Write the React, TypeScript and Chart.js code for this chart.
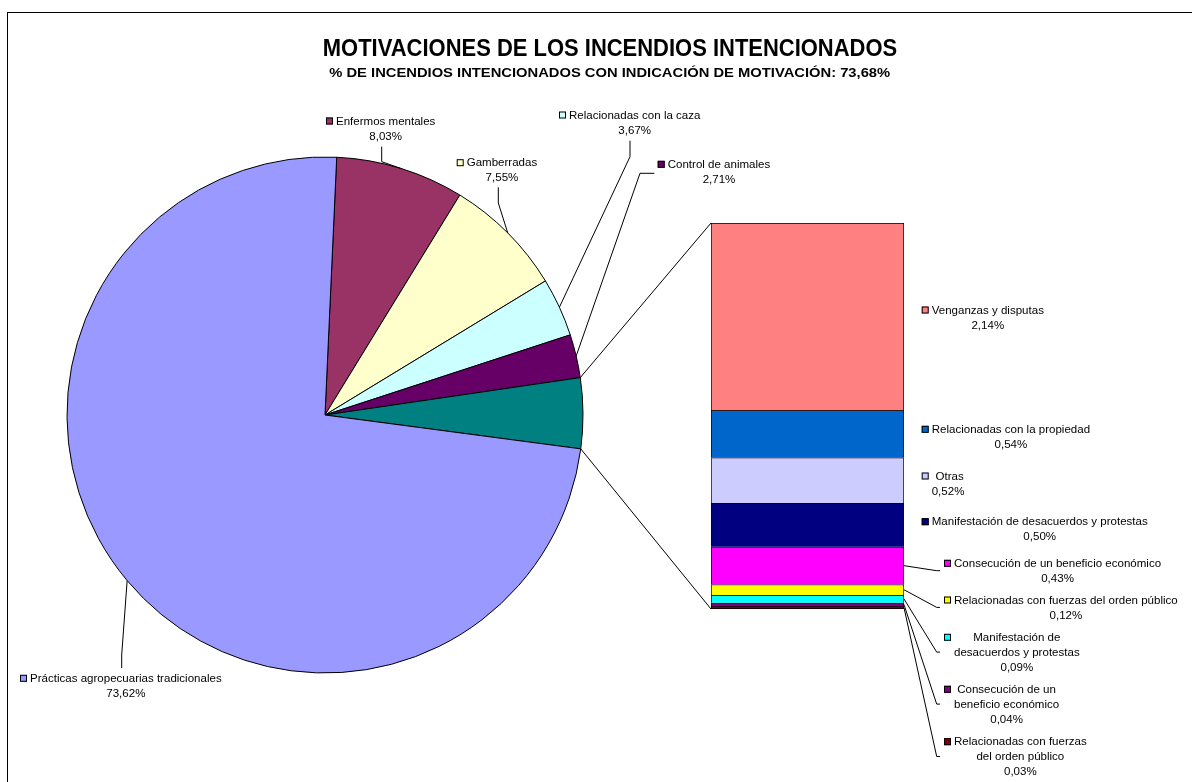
import React, { useEffect, useRef } from 'react';
import { Chart, registerables } from 'chart.js';

Chart.register(...registerables);

const W = 1192;
const H = 782;

// ---------- data ----------
const chartTitle = 'MOTIVACIONES DE LOS INCENDIOS INTENCIONADOS';
const chartSubtitle = '% DE INCENDIOS INTENCIONADOS CON INDICACIÓN DE MOTIVACIÓN: 73,68%';

const barCategories = [
  'Venganzas y disputas',
  'Relacionadas con la propiedad',
  ' Otras',
  'Manifestación de desacuerdos y protestas',
  'Consecución de un beneficio económico',
  'Relacionadas con fuerzas del orden público',
  'Manifestación de desacuerdos y protestas',
  'Consecución de un beneficio económico',
  'Relacionadas con fuerzas del orden público',
];
const barValues = [2.14, 0.54, 0.52, 0.5, 0.43, 0.12, 0.09, 0.04, 0.03];
const barColors = ['#FF8080', '#0066CC', '#CCCCFF', '#000080', '#FF00FF', '#FFFF00', '#00FFFF', '#800080', '#800000'];

const pieCategories = [
  'Enfermos mentales',
  'Gamberradas',
  'Relacionadas con la caza',
  'Control de animales',
  'Otras motivaciones',
  'Prácticas agropecuarias tradicionales',
];
const restTotal = Math.round(barValues.reduce((a, b) => a + b, 0) * 100) / 100;
const pieValues = [8.03, 7.55, 3.67, 2.71, restTotal, 73.62];
const pieColors = ['#993366', '#FFFFCC', '#CCFFFF', '#660066', '#008080', '#9999FF'];
const REST_INDEX = 4;

// ---------- layout ----------
const PIE_BOX = { left: 67, right: 583, top: 157, bottom: 673 };
const PIE_RADIUS = 258;
const PIE_ROTATION = 2.6;
const BAR_BOX = { left: 711, right: 904, top: 223, bottom: 609 };

const FONT = '"Liberation Sans", Arial, Helvetica, sans-serif';
const SMALL = 10.3;
const SX = 1.12;
const LINE_H = 14.8;

type LabelLayout = { mx: number; my: number; wrap?: string[]; leader?: number[][] | boolean } | null;

const pieLabelLayout: LabelLayout[] = [
  { mx: 326, my: 121, leader: [[381.7, 146.7], [381.7, 161.7]] },
  { mx: 456.7, my: 162.7, leader: [[498.3, 187.3], [498.3, 203]] },
  { mx: 559, my: 115, leader: [[630, 140.7], [630, 156.7]] },
  { mx: 657.7, my: 164.3, leader: [[654.3, 173.3], [640, 173.3]] },
  null,
  { mx: 20, my: 678.3, leader: [[121.7, 668], [121.7, 655]] },
];

const barLabelLayout: LabelLayout[] = [
  { mx: 921.7, my: 310 },
  { mx: 921.7, my: 429.3 },
  { mx: 921.7, my: 476 },
  { mx: 921.7, my: 521.7 },
  { mx: 944, my: 563.3, leader: true },
  { mx: 944, my: 600, leader: true },
  { mx: 944, my: 637.3, wrap: ['Manifestación de', 'desacuerdos y protestas'], leader: true },
  { mx: 944, my: 689.3, wrap: ['Consecución de un', 'beneficio económico'], leader: true },
  { mx: 944, my: 741.7, wrap: ['Relacionadas con fuerzas', 'del orden público'], leader: true },
];

const fmt = (v: number) => v.toFixed(2).replace('.', ',') + '%';

function drawText(ctx: CanvasRenderingContext2D, s: string, x: number, y: number, size: number, bold: boolean, sx: number, align: 'left' | 'center') {
  ctx.save();
  ctx.font = `${bold ? 'bold ' : ''}${size}px ${FONT}`;
  ctx.textBaseline = 'alphabetic';
  ctx.textAlign = 'left';
  const w = ctx.measureText(s).width * sx;
  const left = align === 'center' ? x - w / 2 : x;
  ctx.translate(left, y);
  ctx.scale(sx, 1);
  ctx.fillStyle = '#000';
  ctx.fillText(s, 0, 0);
  ctx.restore();
}

function drawLabel(ctx: CanvasRenderingContext2D, mx: number, my: number, color: string, lines: string[]) {
  ctx.save();
  ctx.fillStyle = color;
  ctx.fillRect(mx, my - 3.5, 7, 7);
  ctx.strokeStyle = '#000';
  ctx.lineWidth = 1;
  ctx.strokeRect(mx + 0.5, my - 3, 6, 6);
  ctx.font = `${SMALL}px ${FONT}`;
  const bw = Math.max(...lines.map((l) => ctx.measureText(l).width * SX));
  ctx.restore();
  const left = mx + 10;
  lines.forEach((l, k) => drawText(ctx, l, left + bw / 2, my + 3.7 + k * LINE_H, SMALL, false, SX, 'center'));
  return { centerY: my + ((lines.length - 1) * LINE_H) / 2 };
}

function polyline(ctx: CanvasRenderingContext2D, pts: { x: number; y: number }[]) {
  ctx.save();
  ctx.strokeStyle = '#000';
  ctx.lineWidth = 1;
  ctx.beginPath();
  pts.forEach((p, i) => (i === 0 ? ctx.moveTo(p.x, p.y) : ctx.lineTo(p.x, p.y)));
  ctx.stroke();
  ctx.restore();
}

export default function App() {
  const pieRef = useRef<HTMLCanvasElement>(null);
  const barRef = useRef<HTMLCanvasElement>(null);

  useEffect(() => {
    if (!pieRef.current || !barRef.current) return;

    const pie = new Chart(pieRef.current, {
      type: 'pie',
      data: {
        labels: pieCategories,
        datasets: [
          {
            data: pieValues,
            backgroundColor: pieColors,
            borderColor: '#000',
            borderWidth: 1,
            rotation: PIE_ROTATION,
            radius: PIE_RADIUS,
          } as any,
        ],
      },
      options: {
        responsive: false,
        animation: false,
        devicePixelRatio: 1,
        layout: {
          padding: { left: PIE_BOX.left, right: W - PIE_BOX.right, top: PIE_BOX.top, bottom: H - PIE_BOX.bottom },
        },
        plugins: { legend: { display: false }, tooltip: { enabled: false }, title: { display: false } },
      },
    });

    const overlay = {
      id: 'overlay',
      afterDraw(chart: any) {
        const ctx: CanvasRenderingContext2D = chart.ctx;
        // frame
        ctx.save();
        ctx.strokeStyle = '#000';
        ctx.lineWidth = 1;
        ctx.strokeRect(7.5, 12.5, W + 20, H + 20);
        ctx.restore();
        // titles
        drawText(ctx, chartTitle, 610, 56, 23, true, 0.955, 'center');
        drawText(ctx, chartSubtitle, 609.7, 77, 12.4, true, 1.19, 'center');

        // pie geometry
        const arcs = pie.getDatasetMeta(0).data.map((a: any) =>
          a.getProps(['x', 'y', 'startAngle', 'endAngle', 'outerRadius'], true)
        );
        const edge = (a: any, ang: number) => ({ x: a.x + a.outerRadius * Math.cos(ang), y: a.y + a.outerRadius * Math.sin(ang) });

        // bar geometry
        const segs = barCategories.map((_, i) => {
          const p = (chart.getDatasetMeta(i).data[0] as any).getProps(['x', 'y', 'base', 'width'], true);
          return { left: p.x - p.width / 2, right: p.x + p.width / 2, top: Math.min(p.y, p.base), bottom: Math.max(p.y, p.base) };
        });
        const barTop = Math.min(...segs.map((s) => s.top));
        const barBottom = Math.max(...segs.map((s) => s.bottom));
        const barLeft = segs[0].left;
        const barRight = segs[0].right;

        // connectors pie -> bar
        const rest = arcs[REST_INDEX];
        polyline(ctx, [edge(rest, rest.startAngle), { x: barLeft, y: barTop }]);
        polyline(ctx, [edge(rest, rest.endAngle), { x: barLeft, y: barBottom }]);

        // pie labels
        pieLabelLayout.forEach((lay, i) => {
          if (!lay) return;
          const a = arcs[i];
          const mid = (a.startAngle + a.endAngle) / 2;
          const pts = (lay.leader as number[][]).map(([x, y]) => ({ x, y }));
          polyline(ctx, [...pts, edge(a, mid)]);
          const lines = lay.wrap ? [...lay.wrap] : [pieCategories[i]];
          lines.push(fmt(pieValues[i]));
          drawLabel(ctx, lay.mx, lay.my, pieColors[i], lines);
        });

        // bar labels
        barLabelLayout.forEach((lay, i) => {
          if (!lay) return;
          const lines = lay.wrap ? [...lay.wrap] : [barCategories[i]];
          lines.push(fmt(barValues[i]));
          const { centerY } = drawLabel(ctx, lay.mx, lay.my, barColors[i], lines);
          if (lay.leader) {
            const s = segs[i];
            polyline(ctx, [
              { x: barRight, y: (s.top + s.bottom) / 2 },
              { x: lay.mx - 7.3, y: centerY },
              { x: lay.mx - 4, y: centerY },
            ]);
          }
        });
      },
    };

    const last = barCategories.length - 1;
    const bar = new Chart(barRef.current, {
      type: 'bar',
      data: {
        labels: ['Otras motivaciones'],
        datasets: barCategories.map((c, i) => ({
          label: c,
          data: [barValues[i]],
          backgroundColor: barColors[i],
          borderColor: '#000',
          borderWidth: { top: 1, left: 1, right: 1, bottom: i === last ? 1 : 0 },
          borderSkipped: false,
          barPercentage: 1,
          categoryPercentage: 1,
        })) as any,
      },
      options: {
        responsive: false,
        animation: false,
        devicePixelRatio: 1,
        layout: {
          padding: { left: BAR_BOX.left, right: W - BAR_BOX.right, top: BAR_BOX.top, bottom: H - BAR_BOX.bottom },
        },
        scales: {
          x: { display: false, stacked: true },
          y: { display: false, stacked: true, reverse: true, min: 0, max: barValues.reduce((a, b) => a + b, 0) },
        },
        plugins: { legend: { display: false }, tooltip: { enabled: false }, title: { display: false } },
      },
      plugins: [overlay],
    });

    return () => {
      bar.destroy();
      pie.destroy();
    };
  }, []);

  return (
    <div style={{ position: 'absolute', left: 0, top: 0, width: W, height: H, background: '#fff', overflow: 'hidden' }}>
      <canvas ref={pieRef} width={W} height={H} style={{ position: 'absolute', left: 0, top: 0, width: W, height: H }} />
      <canvas ref={barRef} width={W} height={H} style={{ position: 'absolute', left: 0, top: 0, width: W, height: H }} />
    </div>
  );
}
